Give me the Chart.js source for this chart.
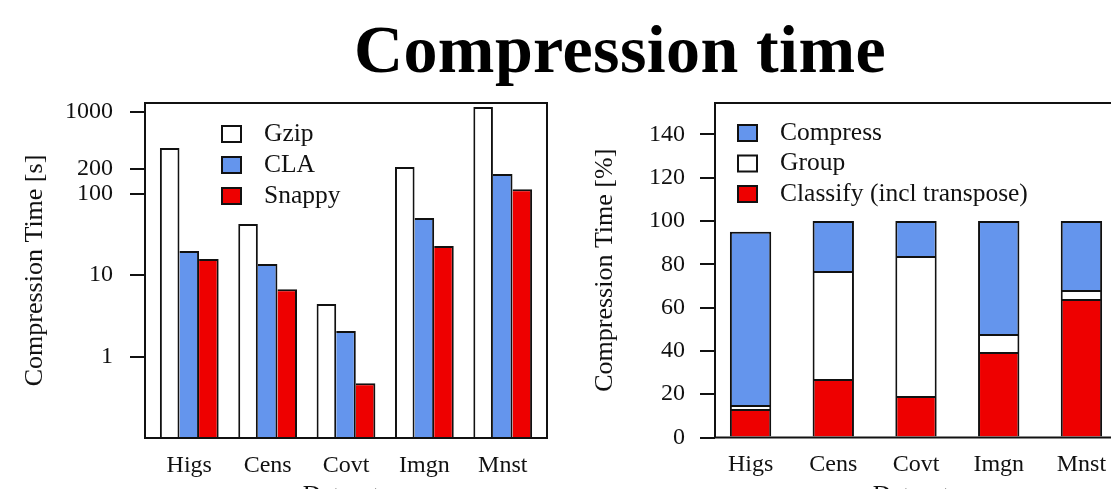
<!DOCTYPE html>
<html>
<head>
<meta charset="utf-8">
<script src="https://cdn.jsdelivr.net/npm/chart.js@4.4.0/dist/chart.umd.min.js"></script>
<style>
html, body { margin: 0; padding: 0; background: #fff; width: 1111px; height: 489px; overflow: hidden; position: relative; }
#title { position: absolute; left: 0; width: 1240px; top: 15px; text-align: center; font: bold 68px 'Liberation Serif', serif; letter-spacing: 0.4px; line-height: 1; color: #000; white-space: nowrap; }
canvas { position: absolute; }
#chart_time { left: 0; top: 90px; }
#chart_share { left: 580px; top: 90px; }
</style>
</head>
<body>
<div id="title">Compression time</div>
<canvas id="chart_time" width="570" height="430"></canvas>
<canvas id="chart_share" width="560" height="430"></canvas>
<script>
const datasets = ['Higs', 'Cens', 'Covt', 'Imgn', 'Mnst'];

// absolute compression time [s], log axis
const gzipTime = [361, 42.3, 4.4, 211, 1150];
const claTime = [19.7, 13.6, 2.06, 50, 173];
const snappyTime = [15.7, 6.7, 0.47, 22.7, 113];
const timeTicks = [1, 10, 100, 200, 1000];

// share of CLA compression time [%]
const classifyPct = [13.2, 27.0, 19.2, 39.5, 64.0];
const groupPct = [1.8, 49.9, 64.6, 8.3, 4.1];
const compressPct = [80.0, 23.1, 16.2, 52.2, 31.9];
const pctTicks = [0, 20, 40, 60, 80, 100, 120, 140];

Chart.defaults.font.family = "'Liberation Serif', 'Times New Roman', serif";
Chart.defaults.font.size = 24;
Chart.defaults.color = '#111';
Chart.defaults.animation = false;

// edges shared by touching bars are drawn only once
const fullEdge = { top: 2, right: 2, bottom: 0, left: 2 };
const noLeftEdge = { top: 2, right: 2, bottom: 0, left: 0 };

// box around the plot + legend drawn inside it
const boxLegend = {
    id: 'boxLegend',
    afterDatasetsDraw(chart, args, opts) {
        const ctx = chart.ctx;
        const a = chart.chartArea;
        ctx.save();
        ctx.strokeStyle = '#111';
        ctx.lineWidth = 2;
        ctx.strokeRect(a.left, a.top, a.right - a.left, a.bottom - a.top);
        ctx.font = '25.5px ' + Chart.defaults.font.family;
        ctx.textBaseline = 'middle';
        opts.order.forEach((di, row) => {
            const ds = chart.data.datasets[di];
            const y = a.top + opts.top + row * opts.gap;
            const x = a.left + opts.left;
            ctx.fillStyle = ds.backgroundColor;
            ctx.fillRect(x, y - 8, 19, 16);
            ctx.lineWidth = 2;
            ctx.strokeRect(x, y - 8, 19, 16);
            ctx.fillStyle = '#111';
            ctx.fillText(ds.label, a.left + opts.textLeft, y);
        });
        ctx.restore();
    }
};

function pts(values) {
    return values.map((v, i) => ({ x: i, y: v }));
}

function noPad(s) {
    s.paddingTop = 0;
    s.paddingBottom = 0;
    s.paddingLeft = 0;
    s.paddingRight = 0;
}

function xScale(min, max, height) {
    return {
        type: 'linear',
        offset: false,
        min: min,
        max: max,
        afterBuildTicks: s => { s.ticks = datasets.map((n, i) => ({ value: i })); },
        afterFit: s => { s.height = height; noPad(s); },
        grid: { display: false, drawTicks: false },
        border: { display: false },
        ticks: { padding: 13, autoSkip: false, maxRotation: 0, callback: v => datasets[v] },
        title: { display: true, text: 'Datasets', font: { size: 25.5 }, padding: { top: 0, bottom: 8.5 } }
    };
}

new Chart(document.getElementById('chart_time'), {
    type: 'bar',
    data: {
        datasets: [
            { label: 'Gzip', data: pts(gzipTime), backgroundColor: '#ffffff', borderWidth: fullEdge },
            { label: 'CLA', data: pts(claTime), backgroundColor: '#6495ed', borderWidth: noLeftEdge },
            { label: 'Snappy', data: pts(snappyTime), backgroundColor: '#ee0000', borderWidth: noLeftEdge }
        ]
    },
    options: {
        responsive: false,
        devicePixelRatio: 1,
        layout: { padding: { top: 13, right: 23, left: 0, bottom: 0 } },
        datasets: { bar: { borderColor: '#111', borderSkipped: false, categoryPercentage: 0.75, barPercentage: 1 } },
        scales: {
            x: xScale(-0.565, 4.565, 82),
            y: {
                type: 'logarithmic',
                min: 0.1,
                max: 1290,
                afterBuildTicks: s => { s.ticks = timeTicks.map(v => ({ value: v })); },
                afterFit: s => { s.width = 145; noPad(s); },
                grid: { drawOnChartArea: false, drawTicks: true, tickLength: 15, color: '#111', lineWidth: 2 },
                border: { display: false },
                ticks: { padding: 17, autoSkip: false, callback: v => String(v) },
                title: { display: true, text: 'Compression Time [s]', font: { size: 26 }, padding: { top: 19.4, bottom: 0 } }
            }
        },
        plugins: {
            legend: { display: false },
            tooltip: { enabled: false },
            boxLegend: { order: [0, 1, 2], left: 77, textLeft: 119, top: 31, gap: 31 }
        }
    },
    plugins: [boxLegend]
});

new Chart(document.getElementById('chart_share'), {
    type: 'bar',
    data: {
        datasets: [
            { label: 'Classify (incl transpose)', data: pts(classifyPct), backgroundColor: '#ee0000' },
            { label: 'Group', data: pts(groupPct), backgroundColor: '#ffffff' },
            { label: 'Compress', data: pts(compressPct), backgroundColor: '#6495ed' }
        ]
    },
    options: {
        responsive: false,
        devicePixelRatio: 1,
        layout: { padding: { top: 13, right: 23, left: 0, bottom: 0 } },
        datasets: { bar: { borderColor: '#111', borderWidth: fullEdge, borderSkipped: false, categoryPercentage: 0.5, barPercentage: 1 } },
        scales: {
            x: Object.assign(xScale(-0.43, 4.43, 82.5), { stacked: true }),
            y: {
                type: 'linear',
                stacked: true,
                min: 0,
                max: 154.5,
                afterBuildTicks: s => { s.ticks = pctTicks.map(v => ({ value: v })); },
                afterFit: s => { s.width = 135; noPad(s); },
                grid: { drawOnChartArea: false, drawTicks: true, tickLength: 15, color: '#111', lineWidth: 2 },
                border: { display: false },
                ticks: { padding: 15, autoSkip: false, callback: v => String(v) },
                title: { display: true, text: 'Compression Time [%]', font: { size: 26 }, padding: { top: 9.4, bottom: 0 } }
            }
        },
        plugins: {
            legend: { display: false },
            tooltip: { enabled: false },
            boxLegend: { order: [2, 1, 0], left: 23, textLeft: 65, top: 30, gap: 30.5 }
        }
    },
    plugins: [boxLegend]
});
</script>
</body>
</html>
